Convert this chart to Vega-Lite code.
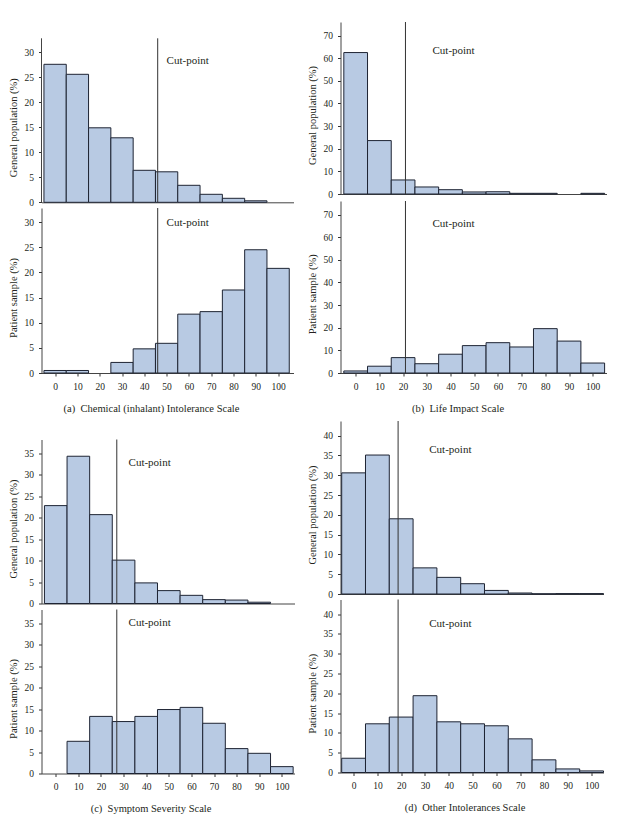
{
  "$schema": "https://vega.github.io/schema/vega-lite/v6.json",
  "padding": {"left": 7.5, "top": 21, "right": 0, "bottom": 0},
  "autosize": {"type": "pad"},
  "background": "white",
  "config": {
    "view": {"stroke": null},
    "font": "Liberation Serif",
    "axis": {
      "grid": false,
      "labelFont": "Liberation Serif",
      "labelFontSize": 9.5,
      "labelColor": "#231f20",
      "labelOverlap": false,
      "titleFont": "Liberation Serif",
      "titleFontSize": 10.5,
      "titleFontWeight": "normal",
      "titleColor": "#231f20",
      "tickSize": 3,
      "tickColor": "#333333",
      "domainColor": "#444444",
      "labelPadding": 5
    },
    "axisY": {"titleX": -28, "titleAngle": -90, "titleBaseline": "middle", "titleAlign": "center"},
    "axisX": {"titleY": 35, "titleAngle": 0, "titleBaseline": "middle", "titleAlign": "center", "labelPadding": 5}
  },
  "datasets": {
    "hist": [
      {"s": "a", "g": "gen", "lo": -5, "hi": 5, "pct": 27.6},
      {"s": "a", "g": "gen", "lo": 5, "hi": 15, "pct": 25.6},
      {"s": "a", "g": "gen", "lo": 15, "hi": 25, "pct": 14.9},
      {"s": "a", "g": "gen", "lo": 25, "hi": 35, "pct": 12.9},
      {"s": "a", "g": "gen", "lo": 35, "hi": 45, "pct": 6.4},
      {"s": "a", "g": "gen", "lo": 45, "hi": 55, "pct": 6.1},
      {"s": "a", "g": "gen", "lo": 55, "hi": 65, "pct": 3.4},
      {"s": "a", "g": "gen", "lo": 65, "hi": 75, "pct": 1.6},
      {"s": "a", "g": "gen", "lo": 75, "hi": 85, "pct": 0.8},
      {"s": "a", "g": "gen", "lo": 85, "hi": 95, "pct": 0.3},
      {"s": "a", "g": "pat", "lo": -5, "hi": 5, "pct": 0.5},
      {"s": "a", "g": "pat", "lo": 5, "hi": 15, "pct": 0.5},
      {"s": "a", "g": "pat", "lo": 25, "hi": 35, "pct": 2.1},
      {"s": "a", "g": "pat", "lo": 35, "hi": 45, "pct": 4.8},
      {"s": "a", "g": "pat", "lo": 45, "hi": 55, "pct": 5.9},
      {"s": "a", "g": "pat", "lo": 55, "hi": 65, "pct": 11.7},
      {"s": "a", "g": "pat", "lo": 65, "hi": 75, "pct": 12.2},
      {"s": "a", "g": "pat", "lo": 75, "hi": 85, "pct": 16.5},
      {"s": "a", "g": "pat", "lo": 85, "hi": 95, "pct": 24.5},
      {"s": "a", "g": "pat", "lo": 95, "hi": 105, "pct": 20.8},
      {"s": "b", "g": "gen", "lo": -5, "hi": 5, "pct": 62.5},
      {"s": "b", "g": "gen", "lo": 5, "hi": 15, "pct": 23.6},
      {"s": "b", "g": "gen", "lo": 15, "hi": 25, "pct": 6.2},
      {"s": "b", "g": "gen", "lo": 25, "hi": 35, "pct": 3.1},
      {"s": "b", "g": "gen", "lo": 35, "hi": 45, "pct": 1.9},
      {"s": "b", "g": "gen", "lo": 45, "hi": 55, "pct": 0.9},
      {"s": "b", "g": "gen", "lo": 55, "hi": 65, "pct": 1.0},
      {"s": "b", "g": "gen", "lo": 65, "hi": 75, "pct": 0.3},
      {"s": "b", "g": "gen", "lo": 75, "hi": 85, "pct": 0.3},
      {"s": "b", "g": "gen", "lo": 95, "hi": 105, "pct": 0.3},
      {"s": "b", "g": "pat", "lo": -5, "hi": 5, "pct": 0.9},
      {"s": "b", "g": "pat", "lo": 5, "hi": 15, "pct": 3.0},
      {"s": "b", "g": "pat", "lo": 15, "hi": 25, "pct": 6.8},
      {"s": "b", "g": "pat", "lo": 25, "hi": 35, "pct": 4.1},
      {"s": "b", "g": "pat", "lo": 35, "hi": 45, "pct": 8.3},
      {"s": "b", "g": "pat", "lo": 45, "hi": 55, "pct": 12.1},
      {"s": "b", "g": "pat", "lo": 55, "hi": 65, "pct": 13.4},
      {"s": "b", "g": "pat", "lo": 65, "hi": 75, "pct": 11.5},
      {"s": "b", "g": "pat", "lo": 75, "hi": 85, "pct": 19.6},
      {"s": "b", "g": "pat", "lo": 85, "hi": 95, "pct": 14.1},
      {"s": "b", "g": "pat", "lo": 95, "hi": 105, "pct": 4.4},
      {"s": "c", "g": "gen", "lo": -5, "hi": 5, "pct": 22.8},
      {"s": "c", "g": "gen", "lo": 5, "hi": 15, "pct": 34.3},
      {"s": "c", "g": "gen", "lo": 15, "hi": 25, "pct": 20.7},
      {"s": "c", "g": "gen", "lo": 25, "hi": 35, "pct": 10.1},
      {"s": "c", "g": "gen", "lo": 35, "hi": 45, "pct": 4.8},
      {"s": "c", "g": "gen", "lo": 45, "hi": 55, "pct": 3.0},
      {"s": "c", "g": "gen", "lo": 55, "hi": 65, "pct": 1.9},
      {"s": "c", "g": "gen", "lo": 65, "hi": 75, "pct": 0.9},
      {"s": "c", "g": "gen", "lo": 75, "hi": 85, "pct": 0.8},
      {"s": "c", "g": "gen", "lo": 85, "hi": 95, "pct": 0.3},
      {"s": "c", "g": "pat", "lo": 5, "hi": 15, "pct": 7.5},
      {"s": "c", "g": "pat", "lo": 15, "hi": 25, "pct": 13.3},
      {"s": "c", "g": "pat", "lo": 25, "hi": 35, "pct": 12.1},
      {"s": "c", "g": "pat", "lo": 35, "hi": 45, "pct": 13.3},
      {"s": "c", "g": "pat", "lo": 45, "hi": 55, "pct": 14.9},
      {"s": "c", "g": "pat", "lo": 55, "hi": 65, "pct": 15.4},
      {"s": "c", "g": "pat", "lo": 65, "hi": 75, "pct": 11.7},
      {"s": "c", "g": "pat", "lo": 75, "hi": 85, "pct": 5.8},
      {"s": "c", "g": "pat", "lo": 85, "hi": 95, "pct": 4.7},
      {"s": "c", "g": "pat", "lo": 95, "hi": 105, "pct": 1.6},
      {"s": "d", "g": "gen", "lo": -5, "hi": 5, "pct": 30.6},
      {"s": "d", "g": "gen", "lo": 5, "hi": 15, "pct": 35.1},
      {"s": "d", "g": "gen", "lo": 15, "hi": 25, "pct": 19.0},
      {"s": "d", "g": "gen", "lo": 25, "hi": 35, "pct": 6.6},
      {"s": "d", "g": "gen", "lo": 35, "hi": 45, "pct": 4.2},
      {"s": "d", "g": "gen", "lo": 45, "hi": 55, "pct": 2.6},
      {"s": "d", "g": "gen", "lo": 55, "hi": 65, "pct": 0.9},
      {"s": "d", "g": "gen", "lo": 65, "hi": 75, "pct": 0.25},
      {"s": "d", "g": "gen", "lo": 75, "hi": 85, "pct": 0.05},
      {"s": "d", "g": "gen", "lo": 85, "hi": 95, "pct": 0.1},
      {"s": "d", "g": "gen", "lo": 95, "hi": 105, "pct": 0.1},
      {"s": "d", "g": "pat", "lo": -5, "hi": 5, "pct": 3.6},
      {"s": "d", "g": "pat", "lo": 5, "hi": 15, "pct": 12.3},
      {"s": "d", "g": "pat", "lo": 15, "hi": 25, "pct": 14.0},
      {"s": "d", "g": "pat", "lo": 25, "hi": 35, "pct": 19.4},
      {"s": "d", "g": "pat", "lo": 35, "hi": 45, "pct": 12.8},
      {"s": "d", "g": "pat", "lo": 45, "hi": 55, "pct": 12.3},
      {"s": "d", "g": "pat", "lo": 55, "hi": 65, "pct": 11.8},
      {"s": "d", "g": "pat", "lo": 65, "hi": 75, "pct": 8.5},
      {"s": "d", "g": "pat", "lo": 75, "hi": 85, "pct": 3.2},
      {"s": "d", "g": "pat", "lo": 85, "hi": 95, "pct": 0.9},
      {"s": "d", "g": "pat", "lo": 95, "hi": 105, "pct": 0.4}
    ],
    "cuts": [
      {"s": "a", "cut": 46, "label": "Cut-point"},
      {"s": "b", "cut": 21, "label": "Cut-point"},
      {"s": "c", "cut": 27, "label": "Cut-point"},
      {"s": "d", "cut": 18.7, "label": "Cut-point"}
    ]
  },
  "spacing": 13,
  "hconcat": [
    {
      "spacing": 24.5,
      "vconcat": [
        {
          "spacing": 5,
          "bounds": "flush",
          "vconcat": [
            {
              "width": 252, "height": 180.3,
              "layer": [
                {"data": {"name": "hist"}, "transform": [{"filter": "datum.s==='a' && datum.g==='gen'"}],
                 "mark": {"type": "bar", "fill": "#b8cae3", "stroke": "#1e2433", "strokeWidth": 1},
                 "encoding": {
                   "x": {"field": "lo", "type": "quantitative", "scale": {"domain": [-6.1, 106.9], "nice": false, "zero": false}, "axis": {"ticks": false, "labels": false, "title": null}},
                   "x2": {"field": "hi"},
                   "y": {"field": "pct", "type": "quantitative", "scale": {"domain": [0, 36.06], "nice": false}, "axis": {"values": [0, 5, 10, 15, 20, 25, 30], "domain": false, "title": "General population (%)", "titleY": 105.3}},
                   "y2": {"datum": 0}
                 }},
                {"data": {"name": "cuts"}, "transform": [{"filter": "datum.s==='a'"}], "mark": {"type": "rule", "color": "#444444", "strokeWidth": 1},
                 "encoding": {"x": {"datum": -6.1, "type": "quantitative", "axis": {"ticks": false, "labels": false, "title": null}}, "y": {"datum": 0, "type": "quantitative", "axis": {"values": [0, 5, 10, 15, 20, 25, 30], "domain": false, "title": "General population (%)", "titleY": 105.3}}, "y2": {"datum": 32.8}}},
                {"data": {"name": "cuts"}, "transform": [{"filter": "datum.s==='a'"}], "mark": {"type": "rule", "color": "#333333", "strokeWidth": 1},
                 "encoding": {"x": {"field": "cut", "type": "quantitative", "axis": {"ticks": false, "labels": false, "title": null}}, "y": {"datum": 0, "type": "quantitative", "axis": {"values": [0, 5, 10, 15, 20, 25, 30], "domain": false, "title": "General population (%)", "titleY": 105.3}}, "y2": {"datum": 32.8}}},
                {"data": {"name": "cuts"}, "transform": [{"filter": "datum.s==='a'"}], "mark": {"type": "text", "align": "left", "baseline": "middle", "font": "Liberation Serif", "fontSize": 11, "color": "#231f20"},
                 "encoding": {"x": {"datum": 50, "type": "quantitative", "axis": {"ticks": false, "labels": false, "title": null}}, "y": {"datum": 28.2, "type": "quantitative", "axis": {"values": [0, 5, 10, 15, 20, 25, 30], "domain": false, "title": "General population (%)", "titleY": 105.3}}, "text": {"field": "label"}}}
              ]
            },
            {
              "width": 252, "height": 165,
              "layer": [
                {"data": {"name": "hist"}, "transform": [{"filter": "datum.s==='a' && datum.g==='pat'"}],
                 "mark": {"type": "bar", "fill": "#b8cae3", "stroke": "#1e2433", "strokeWidth": 1},
                 "encoding": {
                   "x": {"field": "lo", "type": "quantitative", "scale": {"domain": [-6.1, 106.9], "nice": false, "zero": false}, "axis": {"values": [0, 10, 20, 30, 40, 50, 60, 70, 80, 90, 100], "title": "(a)\u00a0 Chemical (inhalant) Intolerance Scale", "titleX": 109.5}},
                   "x2": {"field": "hi"},
                   "y": {"field": "pct", "type": "quantitative", "scale": {"domain": [0, 32.8], "nice": false}, "axis": {"values": [0, 5, 10, 15, 20, 25, 30], "title": "Patient sample (%)", "titleY": 89.5}},
                   "y2": {"datum": 0}
                 }},
                {"data": {"name": "cuts"}, "transform": [{"filter": "datum.s==='a'"}], "mark": {"type": "rule", "color": "#333333", "strokeWidth": 1},
                 "encoding": {"x": {"field": "cut", "type": "quantitative", "axis": {"values": [0, 10, 20, 30, 40, 50, 60, 70, 80, 90, 100], "title": "(a)\u00a0 Chemical (inhalant) Intolerance Scale", "titleX": 109.5}}}},
                {"data": {"name": "cuts"}, "transform": [{"filter": "datum.s==='a'"}], "mark": {"type": "text", "align": "left", "baseline": "middle", "font": "Liberation Serif", "fontSize": 11, "color": "#231f20"},
                 "encoding": {"x": {"datum": 50, "type": "quantitative", "axis": {"values": [0, 10, 20, 30, 40, 50, 60, 70, 80, 90, 100], "title": "(a)\u00a0 Chemical (inhalant) Intolerance Scale", "titleX": 109.5}}, "y": {"datum": 29.8, "type": "quantitative", "axis": {"values": [0, 5, 10, 15, 20, 25, 30], "title": "Patient sample (%)", "titleY": 89.5}}, "text": {"field": "label"}}}
              ]
            }
          ]
        },
        {
          "spacing": 6,
          "bounds": "flush",
          "vconcat": [
            {
              "width": 253, "height": 164,
              "layer": [
                {"data": {"name": "hist"}, "transform": [{"filter": "datum.s==='c' && datum.g==='gen'"}],
                 "mark": {"type": "bar", "fill": "#b8cae3", "stroke": "#1e2433", "strokeWidth": 1},
                 "encoding": {
                   "x": {"field": "lo", "type": "quantitative", "scale": {"domain": [-6.3, 105.6], "nice": false, "zero": false}, "axis": {"ticks": false, "labels": false, "title": null}},
                   "x2": {"field": "hi"},
                   "y": {"field": "pct", "type": "quantitative", "scale": {"domain": [0, 38.2], "nice": false}, "axis": {"values": [0, 5, 10, 15, 20, 25, 30, 35], "title": "General population (%)", "titleY": 89}},
                   "y2": {"datum": 0}
                 }},
                {"data": {"name": "cuts"}, "transform": [{"filter": "datum.s==='c'"}], "mark": {"type": "rule", "color": "#333333", "strokeWidth": 1},
                 "encoding": {"x": {"field": "cut", "type": "quantitative", "axis": {"ticks": false, "labels": false, "title": null}}}},
                {"data": {"name": "cuts"}, "transform": [{"filter": "datum.s==='c'"}], "mark": {"type": "text", "align": "left", "baseline": "middle", "font": "Liberation Serif", "fontSize": 11, "color": "#231f20"},
                 "encoding": {"x": {"datum": 32.2, "type": "quantitative", "axis": {"ticks": false, "labels": false, "title": null}}, "y": {"datum": 32.8, "type": "quantitative", "axis": {"values": [0, 5, 10, 15, 20, 25, 30, 35], "title": "General population (%)", "titleY": 89}}, "text": {"field": "label"}}}
              ]
            },
            {
              "width": 253, "height": 164,
              "layer": [
                {"data": {"name": "hist"}, "transform": [{"filter": "datum.s==='c' && datum.g==='pat'"}],
                 "mark": {"type": "bar", "fill": "#b8cae3", "stroke": "#1e2433", "strokeWidth": 1},
                 "encoding": {
                   "x": {"field": "lo", "type": "quantitative", "scale": {"domain": [-6.3, 105.6], "nice": false, "zero": false}, "axis": {"values": [0, 10, 20, 30, 40, 50, 60, 70, 80, 90, 100], "title": "(c)\u00a0 Symptom Severity Scale", "titleX": 109}},
                   "x2": {"field": "hi"},
                   "y": {"field": "pct", "type": "quantitative", "scale": {"domain": [0, 38.2], "nice": false}, "axis": {"values": [0, 5, 10, 15, 20, 25, 30, 35], "title": "Patient sample (%)", "titleY": 89}},
                   "y2": {"datum": 0}
                 }},
                {"data": {"name": "cuts"}, "transform": [{"filter": "datum.s==='c'"}], "mark": {"type": "rule", "color": "#333333", "strokeWidth": 1},
                 "encoding": {"x": {"field": "cut", "type": "quantitative", "axis": {"values": [0, 10, 20, 30, 40, 50, 60, 70, 80, 90, 100], "title": "(c)\u00a0 Symptom Severity Scale", "titleX": 109}}}},
                {"data": {"name": "cuts"}, "transform": [{"filter": "datum.s==='c'"}], "mark": {"type": "text", "align": "left", "baseline": "middle", "font": "Liberation Serif", "fontSize": 11, "color": "#231f20"},
                 "encoding": {"x": {"datum": 32.2, "type": "quantitative", "axis": {"values": [0, 10, 20, 30, 40, 50, 60, 70, 80, 90, 100], "title": "(c)\u00a0 Symptom Severity Scale", "titleX": 109}}, "y": {"datum": 35, "type": "quantitative", "axis": {"values": [0, 5, 10, 15, 20, 25, 30, 35], "title": "Patient sample (%)", "titleY": 89}}, "text": {"field": "label"}}}
              ]
            }
          ]
        }
      ]
    },
    {
      "spacing": 6,
      "vconcat": [
        {
          "spacing": 7,
          "bounds": "flush",
          "vconcat": [
            {
              "width": 266, "height": 172,
              "layer": [
                {"data": {"name": "hist"}, "transform": [{"filter": "datum.s==='b' && datum.g==='gen'"}],
                 "mark": {"type": "bar", "fill": "#b8cae3", "stroke": "#1e2433", "strokeWidth": 1},
                 "encoding": {
                   "x": {"field": "lo", "type": "quantitative", "scale": {"domain": [-6.4, 105.8], "nice": false, "zero": false}, "axis": {"ticks": false, "labels": false, "title": null}},
                   "x2": {"field": "hi"},
                   "y": {"field": "pct", "type": "quantitative", "scale": {"domain": [0, 76], "nice": false}, "axis": {"values": [0, 10, 20, 30, 40, 50, 60, 70], "title": "General population (%)", "titleY": 93}},
                   "y2": {"datum": 0}
                 }},
                {"data": {"name": "cuts"}, "transform": [{"filter": "datum.s==='b'"}], "mark": {"type": "rule", "color": "#333333", "strokeWidth": 1},
                 "encoding": {"x": {"field": "cut", "type": "quantitative", "axis": {"ticks": false, "labels": false, "title": null}}}},
                {"data": {"name": "cuts"}, "transform": [{"filter": "datum.s==='b'"}], "mark": {"type": "text", "align": "left", "baseline": "middle", "font": "Liberation Serif", "fontSize": 11, "color": "#231f20"},
                 "encoding": {"x": {"datum": 32.4, "type": "quantitative", "axis": {"ticks": false, "labels": false, "title": null}}, "y": {"datum": 63.3, "type": "quantitative", "axis": {"values": [0, 10, 20, 30, 40, 50, 60, 70], "title": "General population (%)", "titleY": 93}}, "text": {"field": "label"}}}
              ]
            },
            {
              "width": 266, "height": 172,
              "layer": [
                {"data": {"name": "hist"}, "transform": [{"filter": "datum.s==='b' && datum.g==='pat'"}],
                 "mark": {"type": "bar", "fill": "#b8cae3", "stroke": "#1e2433", "strokeWidth": 1},
                 "encoding": {
                   "x": {"field": "lo", "type": "quantitative", "scale": {"domain": [-6.4, 105.8], "nice": false, "zero": false}, "axis": {"values": [0, 10, 20, 30, 40, 50, 60, 70, 80, 90, 100], "title": "(b)\u00a0 Life Impact Scale", "titleX": 117}},
                   "x2": {"field": "hi"},
                   "y": {"field": "pct", "type": "quantitative", "scale": {"domain": [0, 76], "nice": false}, "axis": {"values": [0, 10, 20, 30, 40, 50, 60, 70], "title": "Patient sample (%)", "titleY": 92.8}},
                   "y2": {"datum": 0}
                 }},
                {"data": {"name": "cuts"}, "transform": [{"filter": "datum.s==='b'"}], "mark": {"type": "rule", "color": "#333333", "strokeWidth": 1},
                 "encoding": {"x": {"field": "cut", "type": "quantitative", "axis": {"values": [0, 10, 20, 30, 40, 50, 60, 70, 80, 90, 100], "title": "(b)\u00a0 Life Impact Scale", "titleX": 117}}}},
                {"data": {"name": "cuts"}, "transform": [{"filter": "datum.s==='b'"}], "mark": {"type": "text", "align": "left", "baseline": "middle", "font": "Liberation Serif", "fontSize": 11, "color": "#231f20"},
                 "encoding": {"x": {"datum": 32.4, "type": "quantitative", "axis": {"values": [0, 10, 20, 30, 40, 50, 60, 70, 80, 90, 100], "title": "(b)\u00a0 Life Impact Scale", "titleX": 117}}, "y": {"datum": 65.8, "type": "quantitative", "axis": {"values": [0, 10, 20, 30, 40, 50, 60, 70], "title": "Patient sample (%)", "titleY": 92.8}}, "text": {"field": "label"}}}
              ]
            }
          ]
        },
        {
          "spacing": 5.5,
          "bounds": "flush",
          "vconcat": [
            {
              "width": 263, "height": 173,
              "layer": [
                {"data": {"name": "hist"}, "transform": [{"filter": "datum.s==='d' && datum.g==='gen'"}],
                 "mark": {"type": "bar", "fill": "#b8cae3", "stroke": "#1e2433", "strokeWidth": 1},
                 "encoding": {
                   "x": {"field": "lo", "type": "quantitative", "scale": {"domain": [-5.5, 105], "nice": false, "zero": false}, "axis": {"ticks": false, "labels": false, "title": null}},
                   "x2": {"field": "hi"},
                   "y": {"field": "pct", "type": "quantitative", "scale": {"domain": [0, 43.7], "nice": false}, "axis": {"values": [0, 5, 10, 15, 20, 25, 30, 35, 40], "title": "General population (%)", "titleY": 93.5}},
                   "y2": {"datum": 0}
                 }},
                {"data": {"name": "cuts"}, "transform": [{"filter": "datum.s==='d'"}], "mark": {"type": "rule", "color": "#333333", "strokeWidth": 1},
                 "encoding": {"x": {"field": "cut", "type": "quantitative", "axis": {"ticks": false, "labels": false, "title": null}}}},
                {"data": {"name": "cuts"}, "transform": [{"filter": "datum.s==='d'"}], "mark": {"type": "text", "align": "left", "baseline": "middle", "font": "Liberation Serif", "fontSize": 11, "color": "#231f20"},
                 "encoding": {"x": {"datum": 31.8, "type": "quantitative", "axis": {"ticks": false, "labels": false, "title": null}}, "y": {"datum": 36.4, "type": "quantitative", "axis": {"values": [0, 5, 10, 15, 20, 25, 30, 35, 40], "title": "General population (%)", "titleY": 93.5}}, "text": {"field": "label"}}}
              ]
            },
            {
              "width": 263, "height": 173,
              "layer": [
                {"data": {"name": "hist"}, "transform": [{"filter": "datum.s==='d' && datum.g==='pat'"}],
                 "mark": {"type": "bar", "fill": "#b8cae3", "stroke": "#1e2433", "strokeWidth": 1},
                 "encoding": {
                   "x": {"field": "lo", "type": "quantitative", "scale": {"domain": [-5.5, 105], "nice": false, "zero": false}, "axis": {"values": [0, 10, 20, 30, 40, 50, 60, 70, 80, 90, 100], "title": "(d)\u00a0 Other Intolerances Scale", "titleX": 124}},
                   "x2": {"field": "hi"},
                   "y": {"field": "pct", "type": "quantitative", "scale": {"domain": [0, 43.7], "nice": false}, "axis": {"values": [0, 5, 10, 15, 20, 25, 30, 35, 40], "title": "Patient sample (%)", "titleY": 93.7}},
                   "y2": {"datum": 0}
                 }},
                {"data": {"name": "cuts"}, "transform": [{"filter": "datum.s==='d'"}], "mark": {"type": "rule", "color": "#333333", "strokeWidth": 1},
                 "encoding": {"x": {"field": "cut", "type": "quantitative", "axis": {"values": [0, 10, 20, 30, 40, 50, 60, 70, 80, 90, 100], "title": "(d)\u00a0 Other Intolerances Scale", "titleX": 124}}}},
                {"data": {"name": "cuts"}, "transform": [{"filter": "datum.s==='d'"}], "mark": {"type": "text", "align": "left", "baseline": "middle", "font": "Liberation Serif", "fontSize": 11, "color": "#231f20"},
                 "encoding": {"x": {"datum": 31.8, "type": "quantitative", "axis": {"values": [0, 10, 20, 30, 40, 50, 60, 70, 80, 90, 100], "title": "(d)\u00a0 Other Intolerances Scale", "titleX": 124}}, "y": {"datum": 37.5, "type": "quantitative", "axis": {"values": [0, 5, 10, 15, 20, 25, 30, 35, 40], "title": "Patient sample (%)", "titleY": 93.7}}, "text": {"field": "label"}}}
              ]
            }
          ]
        }
      ]
    }
  ]
}
